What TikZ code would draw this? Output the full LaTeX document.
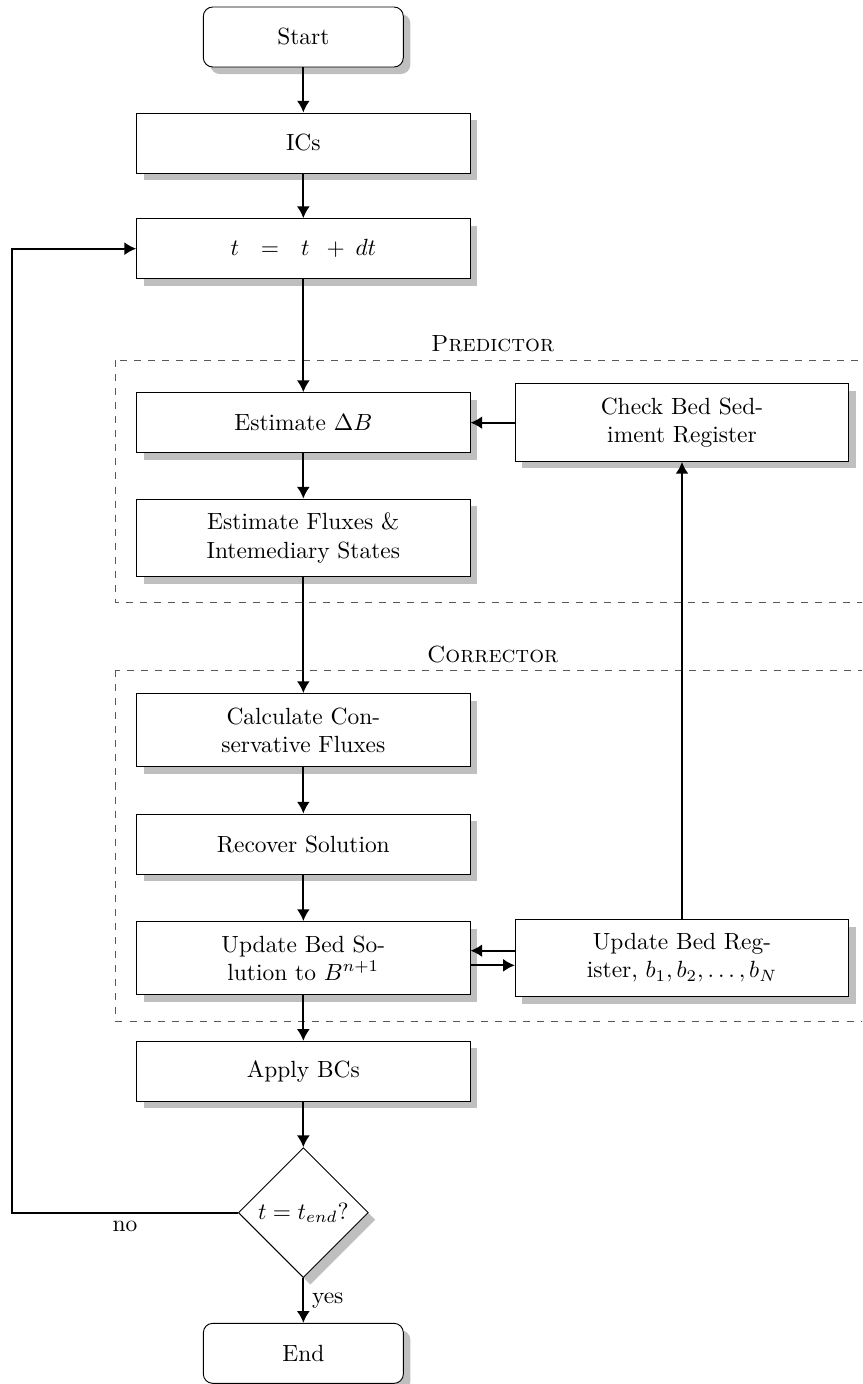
\documentclass[tikz,border=0pt]{standalone}
\usepackage{tikz}
\usetikzlibrary{shapes.geometric, arrows.meta, shadows}

\begin{document}
\begin{tikzpicture}[
    sombra/.style = {drop shadow={shadow xshift=3pt, shadow yshift=-3pt, fill=black!25, opacity=1}},
    block/.style  = {draw, fill=white, sombra, minimum width=5cm, minimum height=0.9cm,
                     text width=3cm, align=center, inner ysep=6pt},
    term/.style   = {draw, fill=white, sombra, rounded corners=4pt, minimum width=3cm,
                     minimum height=0.9cm, align=center},
    decide/.style = {draw, fill=white, sombra, diamond, aspect=1, inner sep=0pt,
                     minimum width=1.95cm, minimum height=1.95cm},
    group/.style  = {draw=black!65, dashed},
    title/.style  = {font=\scshape},
    arr/.style    = {-{Latex[length=5pt, width=5.5pt]}, thick},
]

% --- marco ---
\useasboundingbox (0,0) rectangle (12.93,-20.76);
\clip (0,0) rectangle (12.93,-20.76);

% --- Grupos (dashed) ---
\draw[group] (1.725,-5.4) rectangle (13.05,-9.03);
\draw[group] (1.725,-10.05) rectangle (13.05,-15.315);
\node[title] (tpred) at (7.39,-5.16) {Predictor};
\node[title] (tcorr) at (7.39,-9.81) {Corrector};

% --- Bloques ---
\node[term]   (start) at (4.55,-0.555) {Start};
\node[block]  (ics)   at (4.55,-2.145) {ICs};
\node[block]  (tdt)   at (4.55,-3.73)  {$t \enspace = \enspace t \;+\, dt$};
\node[block]  (estB)  at (4.55,-6.34)  {Estimate $\Delta B$};
\node[block]  (chk)   at (10.23,-6.34) {Check Bed Sed-\\iment Register};
\node[block]  (flux)  at (4.55,-8.07)  {Estimate Fluxes \& Intemediary States};
\node[block]  (calc)  at (4.55,-10.95) {Calculate Conservative Fluxes};
\node[block]  (rec)   at (4.55,-12.66) {Recover Solution};
\node[block]  (upd)   at (4.55,-14.37) {Update Bed So-\\lution to $B^{n+1}$};
\node[block]  (reg)   at (10.23,-14.37){Update Bed Register, $b_1, b_2, \ldots, b_N$};
\node[block]  (apply) at (4.55,-16.07) {Apply BCs};
\node[decide] (dec)   at (4.55,-18.19) {$t = t_{end}$?};
\node[term]   (fin)   at (4.55,-20.30) {End};
\coordinate (ret) at (0.18,-18.19);

% --- Flechas ---
\draw[arr] (start) -- (ics);
\draw[arr] (ics)   -- (tdt);
\draw[arr] (tdt)   -- (estB);
\draw[arr] (estB)  -- (flux);
\draw[arr] (flux)  -- (calc);
\draw[arr] (calc)  -- (rec);
\draw[arr] (rec)   -- (upd);
\draw[arr] (upd)   -- (apply);
\draw[arr] (apply) -- (dec);
\draw[arr] (dec)   -- (fin) node[midway, right] {yes};
\draw[arr] (dec.west) -- (ret) node[midway, below] {no} |- (tdt.west);
\draw[arr] (chk)   -- (estB);
\draw[arr] (reg)   -- (chk);
\draw[arr] ([yshift=0.11cm]reg.west)  -- ([yshift=0.11cm]upd.east);
\draw[arr] ([yshift=-0.11cm]upd.east) -- ([yshift=-0.11cm]reg.west);

\end{tikzpicture}
\end{document}
